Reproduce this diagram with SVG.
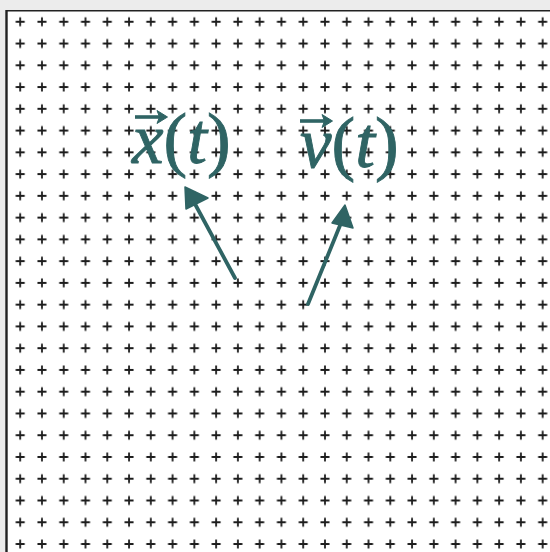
<svg xmlns="http://www.w3.org/2000/svg" width="550" height="552" viewBox="0 0 550 552">
  <style>
    .lbl { font-family: "Liberation Serif", "Times New Roman", serif; font-size: 71px; fill: #2f6464; stroke: #2f6464; stroke-width: 0.9; }
    .it { font-style: italic; }
    .vec { fill: none; stroke: #2f6464; stroke-width: 3.6; stroke-linecap: butt; }
    .vh { fill: #2f6464; stroke: #2f6464; stroke-width: 1; stroke-linejoin: round; }
    .conn { fill: none; stroke: #2f6464; stroke-width: 3.8; stroke-linecap: round; }
    .head { fill: #2f6464; stroke: #2f6464; stroke-width: 1.5; stroke-linejoin: round; }
  </style>
  <defs>
    <pattern id="cross" patternUnits="userSpaceOnUse" x="9.3" y="10.9" width="21.77" height="21.76">
      <path d="M6.4 10.88 H15.4 M10.9 6.38 V15.38" stroke="#1c1c1c" stroke-width="1.8" fill="none"/>
    </pattern>
  </defs>
  <rect x="0" y="0" width="550" height="552" fill="#ececec"/>
  <rect x="6" y="10.5" width="544" height="541.5" fill="#ffffff"/>
  <rect x="0" y="10.5" width="550" height="542" fill="url(#cross)"/>
  <rect x="0" y="0" width="6" height="552" fill="#ececec"/>
  <line x1="6" y1="10.8" x2="550" y2="10.8" stroke="#222" stroke-width="1.6"/>
  <line x1="6.5" y1="10" x2="6.5" y2="552" stroke="#222" stroke-width="2.4"/>

  <g id="node-x">
    <text class="lbl" x="132" y="163"><tspan class="it">x</tspan>(<tspan class="it">t</tspan>)</text>
    <path class="vec" d="M135 117 H160"/>
    <path class="vh" d="M157 110.5 L167.5 117 L157 123.5 L159.5 117 Z"/>
  </g>
  <g id="node-v">
    <text class="lbl" x="300" y="167"><tspan class="it">v</tspan>(<tspan class="it">t</tspan>)</text>
    <path class="vec" d="M300 121 H325"/>
    <path class="vh" d="M322 114.5 L332.5 121 L322 127.5 L324.5 121 Z"/>
  </g>

  <g id="connectors">
    <line class="conn" x1="235" y1="278" x2="195" y2="204"/>
    <polygon class="head" points="185,187 208,198 186,209"/>
    <line class="conn" x1="308" y1="304" x2="341" y2="223"/>
    <polygon class="head" points="345,205 353,228 332,223"/>
  </g>
</svg>
